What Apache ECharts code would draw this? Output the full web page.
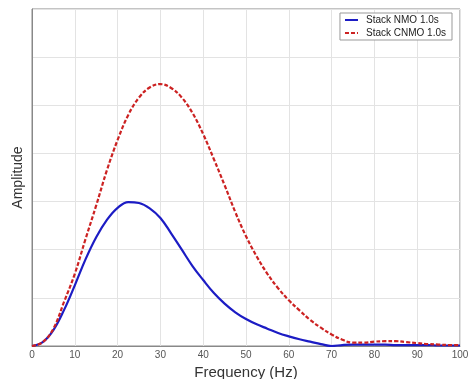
<!DOCTYPE html>
<html>
<head>
<meta charset="utf-8">
<script src="https://cdn.jsdelivr.net/npm/echarts@6/dist/echarts.min.js"></script>
<style>
html,body{margin:0;padding:0;background:#fff;}
#chart{width:470px;height:379px;}
</style>
</head>
<body>
<div id="chart"></div>
<script>
var freq = [0, 2.5, 5, 7.5, 10, 12.5, 15, 17.5, 20, 22.5, 25, 27.5, 30, 32.5, 35, 37.5, 40, 42.5, 45, 47.5, 50,
            52.5, 55, 57.5, 60, 62.5, 65, 67.5, 70, 72.5, 75, 77.5, 80, 82.5, 85, 87.5, 90, 92.5, 95, 97.5, 100];
var nmo  = [0, 0.08, 0.33, 0.75, 1.26, 1.8, 2.26, 2.62, 2.87, 2.99, 2.97, 2.86, 2.66, 2.34, 2.0, 1.66, 1.37, 1.1, 0.88, 0.7, 0.56,
            0.45, 0.36, 0.27, 0.2, 0.14, 0.09, 0.04, 0.0, 0.02, 0.03, 0.03, 0.03, 0.03, 0.02, 0.02, 0.02, 0.02, 0.01, 0.01, 0.01];
var cnmo = [0, 0.08, 0.36, 0.92, 1.5, 2.22, 2.92, 3.65, 4.28, 4.8, 5.16, 5.37, 5.44, 5.36, 5.16, 4.84, 4.4, 3.88, 3.34, 2.78, 2.28,
            1.86, 1.5, 1.2, 0.95, 0.74, 0.54, 0.38, 0.24, 0.13, 0.07, 0.07, 0.09, 0.1, 0.1, 0.08, 0.06, 0.04, 0.03, 0.02, 0.02];
var xTicks = [0, 10, 20, 30, 40, 50, 60, 70, 80, 90, 100];
var seriesNames = ['Stack NMO 1.0s', 'Stack CNMO 1.0s'];

function pairs(xs, ys) { return xs.map(function (x, i) { return [x, ys[i]]; }); }

var chart = echarts.init(document.getElementById('chart'));
var font = 'Liberation Sans, Arial, sans-serif';
var axisLineStyle = { lineStyle: { color: '#888', width: 1 } };
chart.setOption({
  animation: false,
  backgroundColor: '#fff',
  textStyle: { fontFamily: font },
  grid: { left: 32, right: 10, top: 9, bottom: 33, outerBoundsMode: 'none', containLabel: false,
          show: true, borderColor: '#888', borderWidth: 1 },
  legend: {
    data: seriesNames,
    orient: 'vertical',
    right: 18,
    top: 13,
    itemWidth: 13,
    itemHeight: 8,
    itemGap: 3,
    padding: [2, 6, 2, 4],
    borderColor: '#999',
    borderWidth: 1,
    backgroundColor: '#fff',
    itemStyle: { opacity: 0 },
    textStyle: { fontSize: 10, color: '#222', fontFamily: font, padding: [0, 0, 0, 3] }
  },
  xAxis: [{
    type: 'value', min: 0, max: 100, interval: 10, position: 'bottom',
    name: 'Frequency (Hz)', nameLocation: 'middle', nameGap: 15,
    nameTextStyle: { fontSize: 15, color: '#333', fontFamily: font },
    axisLine: axisLineStyle,
    axisTick: { show: false },
    axisLabel: { fontSize: 10, color: '#555', margin: 4, customValues: xTicks, formatter: function (v) { return String(v); } },
    splitLine: { show: true, lineStyle: { color: '#e3e3e3', width: 1 } }
  }],
  yAxis: [{
    type: 'value', min: 0, max: 7, interval: 1, position: 'left',
    name: 'Amplitude', nameLocation: 'middle', nameGap: 7,
    nameTextStyle: { fontSize: 14, color: '#333', fontFamily: font },
    axisLine: axisLineStyle,
    axisTick: { show: false },
    axisLabel: { show: false },
    splitLine: { show: true, lineStyle: { color: '#e3e3e3', width: 1 } }
  }],
  series: [{
    name: seriesNames[0], type: 'line', data: pairs(freq, nmo),
    smooth: 0.4, symbol: 'none', color: '#1c1cc4',
    lineStyle: { color: '#1c1cc4', width: 2.2, type: 'solid' }
  }, {
    name: seriesNames[1], type: 'line', data: pairs(freq, cnmo),
    smooth: 0.4, symbol: 'none', color: '#cc2222',
    lineStyle: { color: '#cc2222', width: 2.2, type: [4, 2] }
  }]
});
</script>
</body>
</html>
